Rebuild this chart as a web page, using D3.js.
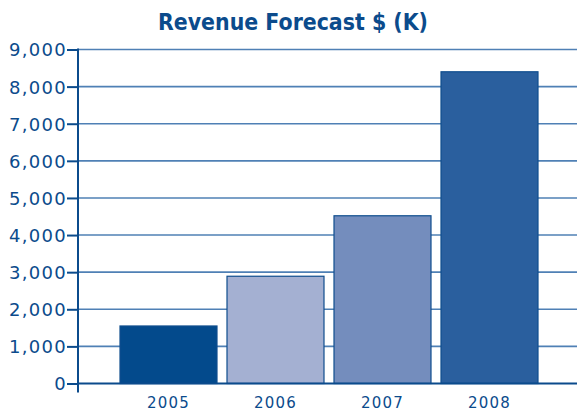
<!DOCTYPE html>
<html>
<head>
<meta charset="utf-8">
<script src="https://cdn.jsdelivr.net/npm/d3@7"></script>
<style>
  body { margin: 0; background: #fff; }
  svg { display: block; }
</style>
</head>
<body>
<div id="chart"></div>
<script>
let years = ["2005", "2006", "2007", "2008"];
let revenue = [1550, 2890, 4520, 8400];
let barColors = ["#034a8c", "#a4b0d2", "#748dbd", "#2a5f9e"];
let yTicks = [0, 1000, 2000, 3000, 4000, 5000, 6000, 7000, 8000, 9000];

let width = 577, height = 413;
let axisX = 78, baseY = 383.5, topY = 49.5;
let blue = "#0b4b8c";
let font = "'DejaVu Sans', Verdana, sans-serif";

let svg = d3.select("#chart")
    .append("svg")
    .attr("width", width)
    .attr("height", height);

let x = d3.scaleBand()
    .domain(years)
    .range([115, 543])
    .paddingInner(10 / 107)
    .paddingOuter(5 / 107);

let y = d3.scaleLinear()
    .domain([0, 9000])
    .range([baseY, topY]);

// title
svg.append("text")
    .attr("x", 158)
    .attr("y", 30)
    .attr("textLength", 270)
    .attr("lengthAdjust", "spacingAndGlyphs")
    .style("font-family", font)
    .style("font-weight", "bold")
    .style("font-size", "23px")
    .style("fill", blue)
    .text("Revenue Forecast $ (K)");

// gridlines
svg.append("g")
    .selectAll("line")
    .data(yTicks.slice(1))
    .enter().append("line")
    .attr("x1", axisX)
    .attr("x2", width)
    .attr("y1", d => y(d))
    .attr("y2", d => y(d))
    .style("stroke", "#4f80b5")
    .style("stroke-width", 1.6);

// bars
svg.append("g")
    .selectAll("rect")
    .data(years)
    .enter().append("rect")
    .attr("x", d => x(d))
    .attr("y", (d, i) => y(revenue[i]))
    .attr("width", x.bandwidth())
    .attr("height", (d, i) => baseY - y(revenue[i]))
    .style("fill", (d, i) => barColors[i])
    .style("stroke", "#104e8e")
    .style("stroke-width", 1.2);

// y axis
let yAxis = d3.axisLeft(y)
    .tickValues(yTicks)
    .tickSize(11)
    .tickPadding(0)
    .tickFormat(d3.format(","));

let gy = svg.append("g")
    .attr("transform", `translate(${axisX},0)`)
    .call(yAxis);
gy.select(".domain").remove();
gy.selectAll(".tick line").style("stroke", blue).style("stroke-width", 2);
gy.selectAll(".tick text")
    .attr("dy", "0.36em")
    .style("font-family", font)
    .style("font-size", "18px")
    .style("letter-spacing", "1.3px")
    .style("fill", blue);

svg.append("line")
    .attr("x1", axisX).attr("x2", axisX)
    .attr("y1", topY - 1).attr("y2", baseY + 9)
    .style("stroke", blue)
    .style("stroke-width", 2);

// x axis
svg.append("line")
    .attr("x1", axisX).attr("x2", width)
    .attr("y1", baseY).attr("y2", baseY)
    .style("stroke", blue)
    .style("stroke-width", 2.2);

svg.append("g")
    .selectAll("text")
    .data(years)
    .enter().append("text")
    .attr("x", d => x(d) + x.bandwidth() / 2)
    .attr("y", 408)
    .attr("text-anchor", "middle")
    .style("font-family", font)
    .style("font-size", "15px")
    .style("letter-spacing", "1.2px")
    .style("fill", blue)
    .text(d => d);
</script>
</body>
</html>
